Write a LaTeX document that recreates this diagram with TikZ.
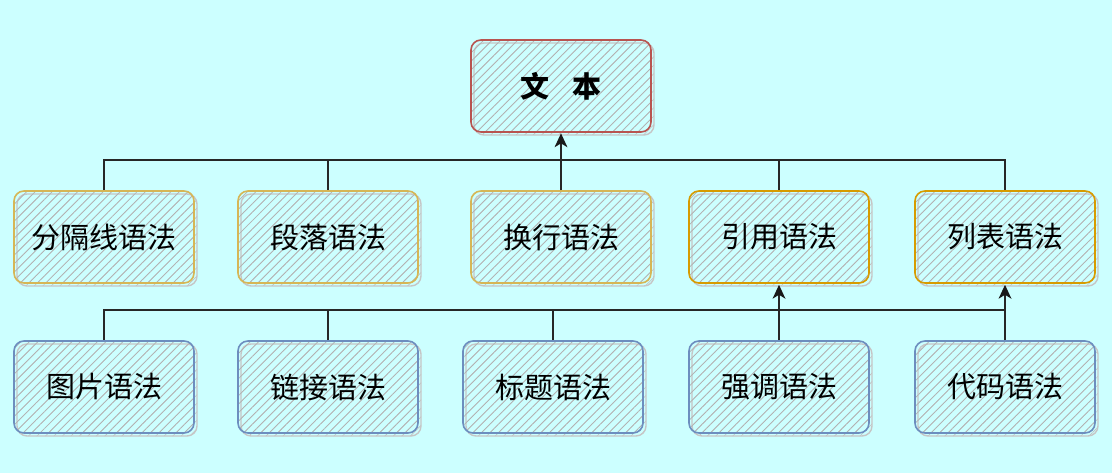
\documentclass[tikz,border=0pt]{standalone}
\usepackage{fontspec}
\newfontfamily\cjk{Noto Sans CJK SC}
\usetikzlibrary{patterns.meta,shadows,arrows.meta}
\definecolor{bgc}{HTML}{CCFFFF}
\definecolor{redc}{HTML}{B85450}
\definecolor{yelc}{HTML}{D6B656}
\definecolor{orac}{HTML}{D79B00}
\definecolor{bluc}{HTML}{6C8EBF}
\tikzset{
  box/.style={rounded corners=10pt, minimum width=180pt, minimum height=92pt,
    line width=1.6pt, inner sep=0pt, font=\cjk\fontsize{29}{34}\selectfont,
    pattern={Lines[angle=45,distance=6pt,line width=0.7pt]}, pattern color=gray!60,
    copy shadow={shadow xshift=3pt, shadow yshift=-3pt, draw=gray!45, line width=1.4pt,
      pattern={Lines[angle=45,distance=6pt,line width=0.6pt]}, pattern color=gray!50}},
  topbox/.style={box, draw=redc},
  ybox/.style={box, draw=yelc},
  obox/.style={box, draw=orac},
  bbox/.style={box, draw=bluc},
  link/.style={line width=1.2pt, draw=black!85},
  upline/.style={line width=1.8pt, draw=black!85},
  tip/.style={fill=black!90}
}
\begin{document}
\begin{tikzpicture}[x=1pt,y=-1pt]
\fill[bgc] (0,0) rectangle (1112,473);
\useasboundingbox (0,0) rectangle (1112,473);
\node[topbox] (top) at (561,86) {\bfseries 文\hspace{0.8em}本};
\node[ybox] (b1) at (104,237) {分隔线语法};
\node[ybox] (b2) at (328,237) {段落语法};
\node[ybox] (b3) at (561,237) {换行语法};
\node[obox] (b4) at (779,237) {引用语法};
\node[obox] (b5) at (1005,237) {列表语法};
\node[bbox] (c1) at (104,387) {图片语法};
\node[bbox] (c2) at (328,387) {链接语法};
\node[bbox] (c3) at (553,387) {标题语法};
\node[bbox] (c4) at (779,387) {强调语法};
\node[bbox] (c5) at (1005,387) {代码语法};
\coordinate (busA) at (0,160);
\coordinate (busB) at (0,310);
\draw[link] (b1.north) -- (b1.north|-busA) -- (b5.north|-busA) -- (b5.north);
\draw[link] (b2.north) -- (b2.north|-busA);
\draw[link] (b4.north) -- (b4.north|-busA);
\draw[upline] (b3.north) -- ([yshift=-8pt]top.south);
\fill[tip] ([yshift=-1pt]top.south) -- ++(-6.5,14) -- ++(6.5,-4) -- ++(6.5,4) -- cycle;
\draw[link] (c1.north) -- (c1.north|-busB) -- (c5.north|-busB);
\draw[link] (c2.north) -- (c2.north|-busB);
\draw[link] (c3.north) -- (c3.north|-busB);
\draw[upline] (c4.north) -- ([yshift=-8pt]b4.south);
\fill[tip] ([yshift=-1pt]b4.south) -- ++(-6.5,14) -- ++(6.5,-4) -- ++(6.5,4) -- cycle;
\draw[upline] (c5.north) -- ([yshift=-8pt]b5.south);
\fill[tip] ([yshift=-1pt]b5.south) -- ++(-6.5,14) -- ++(6.5,-4) -- ++(6.5,4) -- cycle;
\end{tikzpicture}
\end{document}
